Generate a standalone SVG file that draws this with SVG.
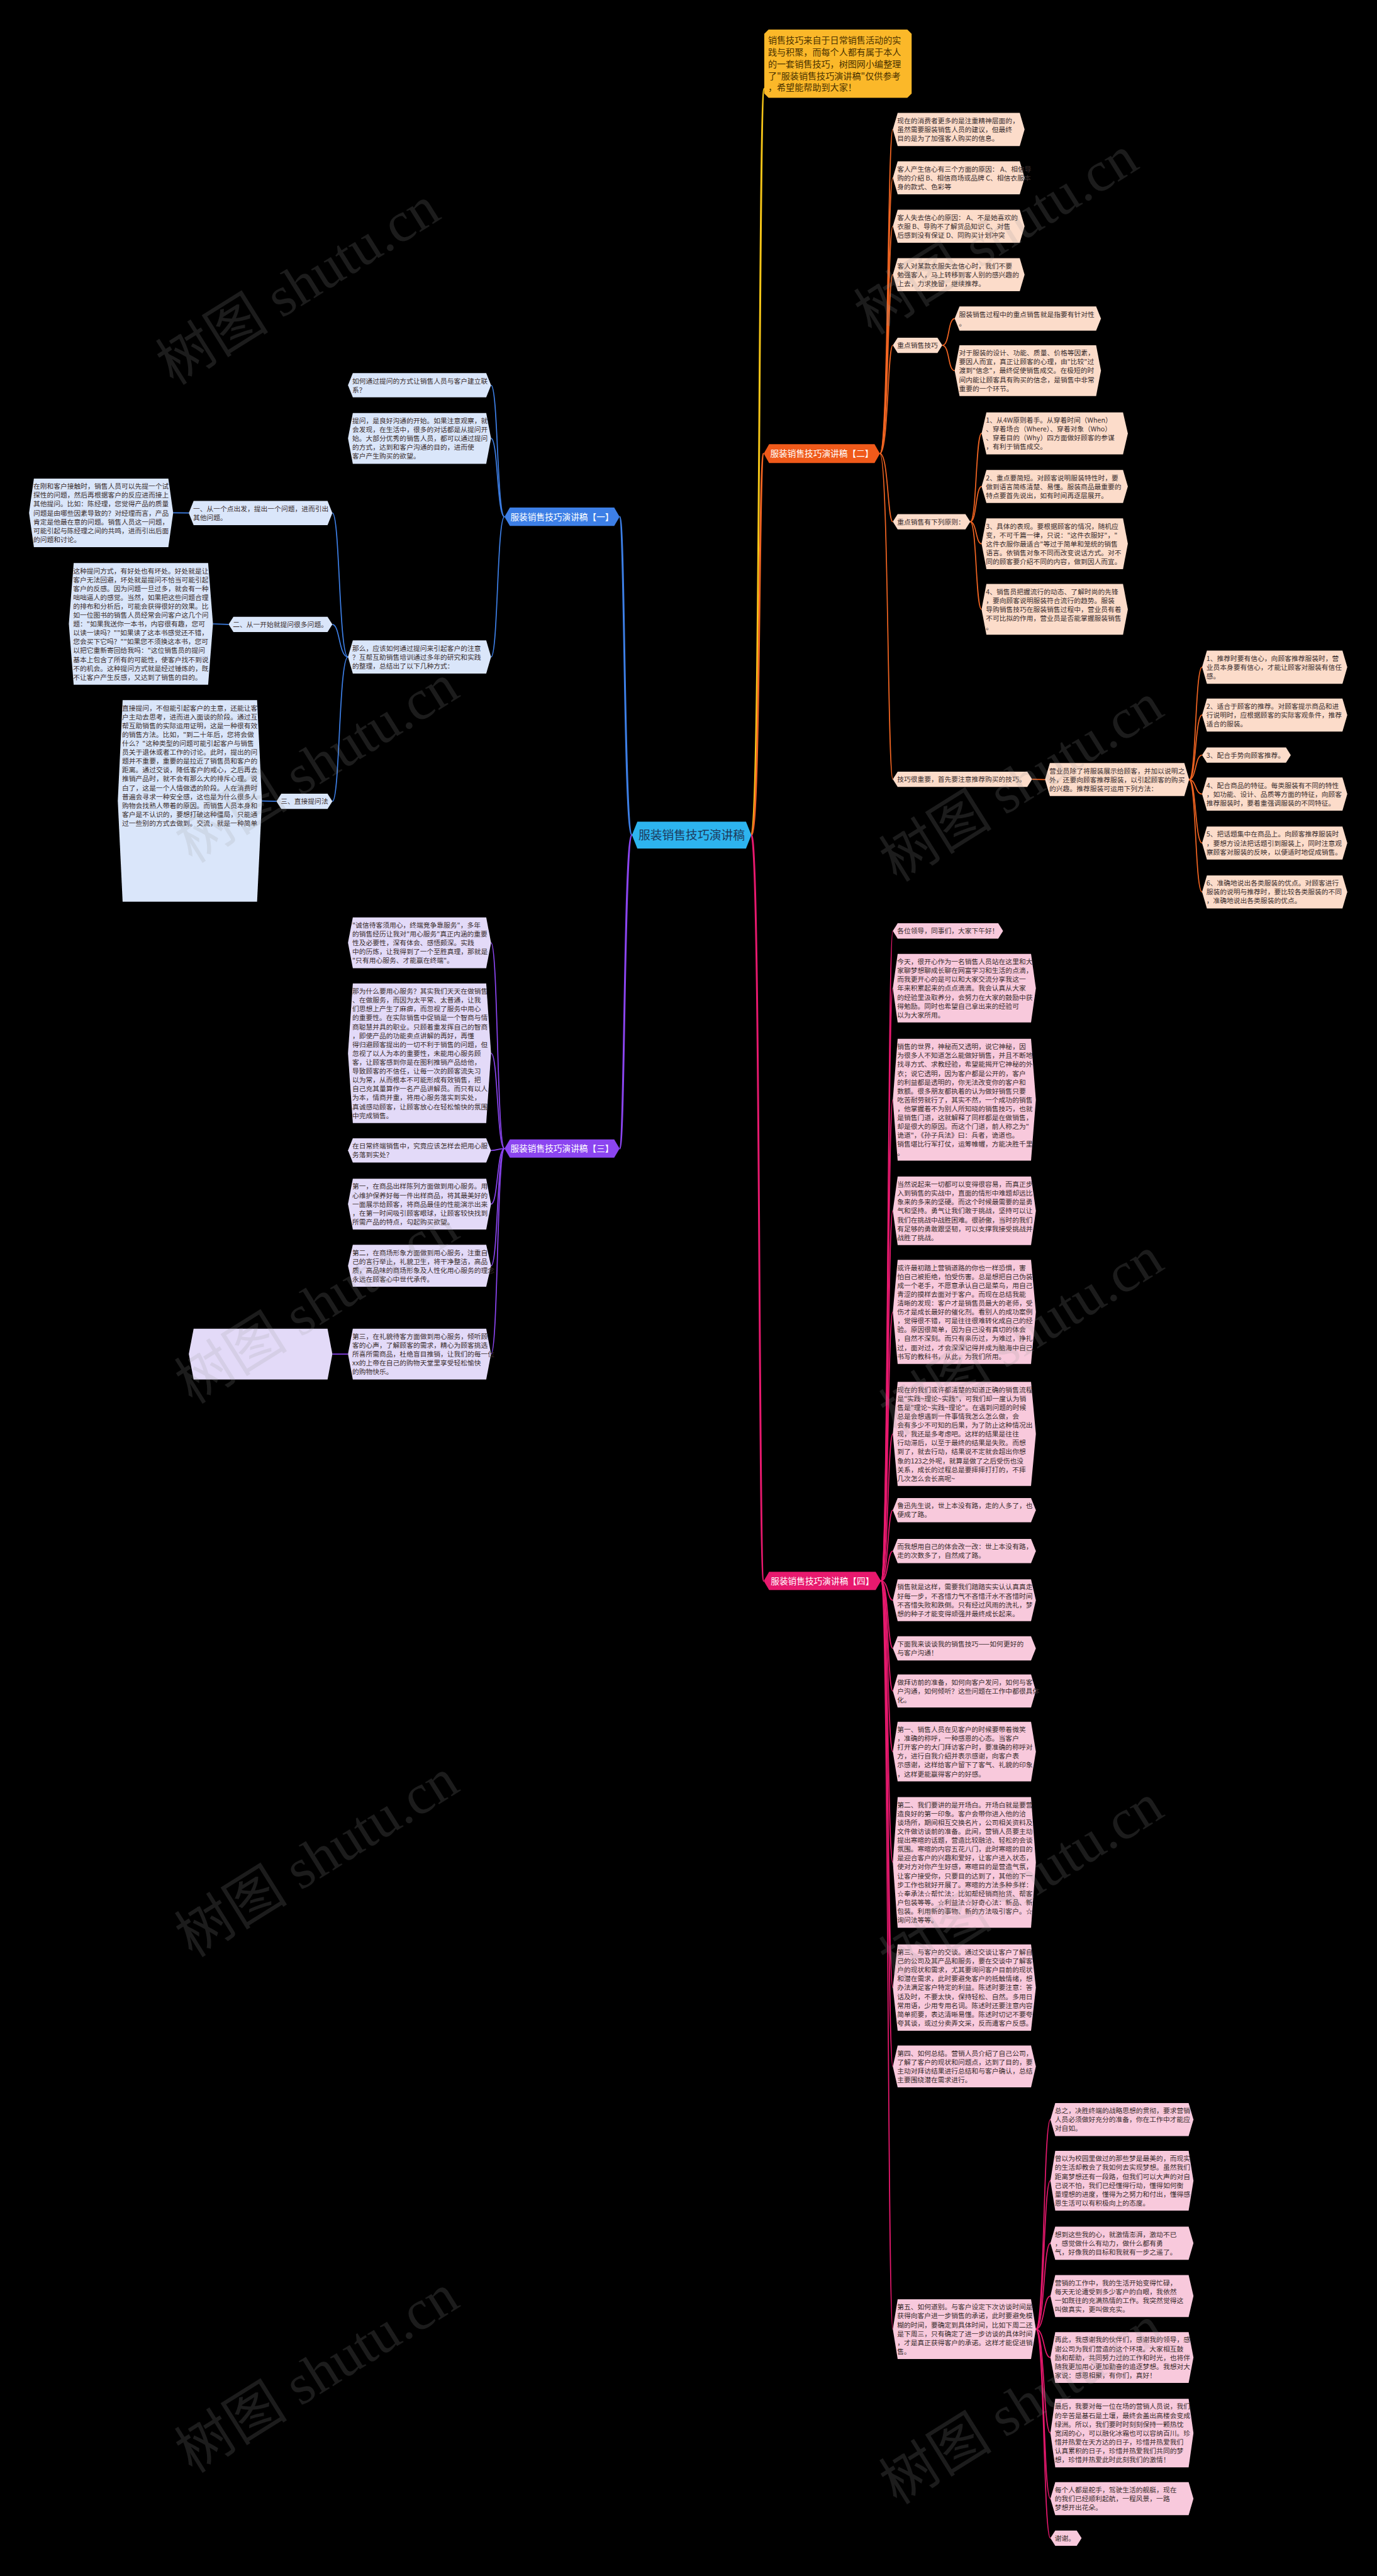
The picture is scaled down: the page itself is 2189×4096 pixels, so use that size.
<svg xmlns="http://www.w3.org/2000/svg" width="2189" height="4096" viewBox="0 0 2189 4096">
<defs>
<style>
.t{font-family:"Noto Sans CJK SC","Noto Sans",sans-serif;font-size:12.6px;fill:#3a2e2e;}
.ti{font-family:"Noto Sans CJK SC",sans-serif;font-size:16.5px;fill:#4a3200;}
.tb{font-family:"Noto Sans CJK SC",sans-serif;font-size:16px;fill:#ffffff;text-anchor:middle;}
.tc{font-family:"Noto Sans CJK SC",sans-serif;font-size:22px;fill:#1d3a5c;text-anchor:middle;}
.o{fill:#fcdcca;}
.p{fill:#f8c9dc;}
.b{fill:#dae6fa;}
.v{fill:#e3daf8;}
.lo{fill:none;stroke:#f26522;stroke-width:2;}
.lp{fill:none;stroke:#e8196e;stroke-width:2;}
.lb{fill:none;stroke:#3d7fe6;stroke-width:2;}
.lv{fill:none;stroke:#8b45f0;stroke-width:2;}
.wm{font-family:"Liberation Serif","Noto Sans CJK SC",serif;font-size:90px;fill:#9a9a9a;opacity:0.18;text-anchor:middle;}
</style>
</defs>
<rect width="2189" height="4096" fill="#000000"/>
<g transform="scale(0.855)">

<g id="connectors">
<path d="M1397,1553 C1414,1553 1410,165 1421,165" fill="none" stroke="#f5c518" stroke-width="3.5"/>
<path d="M1397,1553 C1414,1553 1410,843.5 1420,843.5" fill="none" stroke="#f26522" stroke-width="3.5"/>
<path d="M1397,1553 C1414,1553 1410,2940 1420,2940" fill="none" stroke="#e8196e" stroke-width="3.5"/>
<path d="M1175,1553 C1160,1553 1162,961 1152,961" fill="none" stroke="#3d7fe6" stroke-width="3.5"/>
<path d="M1175,1553 C1160,1553 1162,2136 1152,2136" fill="none" stroke="#8b45f0" stroke-width="3.5"/>

<path class="lo" d="M1636,843.5 C1652,843.5 1650,240.75 1660,240.75"/>
<path class="lo" d="M1636,843.5 C1652,843.5 1650,330.75 1660,330.75"/>
<path class="lo" d="M1636,843.5 C1652,843.5 1650,420.75 1660,420.75"/>
<path class="lo" d="M1636,843.5 C1652,843.5 1650,510.75 1660,510.75"/>
<path class="lo" d="M1636,843.5 C1652,843.5 1650,642.25 1660,642.25"/>
<path class="lo" d="M1636,843.5 C1652,843.5 1650,970.25 1660,970.25"/>
<path class="lo" d="M1636,843.5 C1652,843.5 1650,1449.25 1660,1449.25"/>
<path class="lo" d="M1752,642.25 C1766,642.25 1762,592.5 1775,592.5"/>
<path class="lo" d="M1752,642.25 C1766,642.25 1762,689.25 1775,689.25"/>
<path class="lo" d="M1804,970.25 C1816,970.25 1814,806 1825,806"/>
<path class="lo" d="M1804,970.25 C1816,970.25 1814,904.75 1825,904.75"/>
<path class="lo" d="M1804,970.25 C1816,970.25 1814,1011.25 1825,1011.25"/>
<path class="lo" d="M1804,970.25 C1816,970.25 1814,1133.25 1825,1133.25"/>
<path class="lo" d="M1919,1449.25 L1943,1449.75"/>
<path class="lo" d="M2211,1449.75 C2224,1449.75 2222,1240.75 2235,1240.75"/>
<path class="lo" d="M2211,1449.75 C2224,1449.75 2222,1329.75 2235,1329.75"/>
<path class="lo" d="M2211,1449.75 C2224,1449.75 2222,1404.25 2235,1404.25"/>
<path class="lo" d="M2211,1449.75 C2224,1449.75 2222,1476.75 2235,1476.75"/>
<path class="lo" d="M2211,1449.75 C2224,1449.75 2222,1567.75 2235,1567.75"/>
<path class="lo" d="M2211,1449.75 C2224,1449.75 2222,1658.75 2235,1658.75"/>

<path class="lp" d="M1638,2940 C1652,2940 1650,1731.25 1660,1731.25"/>
<path class="lp" d="M1638,2940 C1652,2940 1650,1837.75 1660,1837.75"/>
<path class="lp" d="M1638,2940 C1652,2940 1650,2045.25 1660,2045.25"/>
<path class="lp" d="M1638,2940 C1652,2940 1650,2251.75 1660,2251.75"/>
<path class="lp" d="M1638,2940 C1652,2940 1650,2439.75 1660,2439.75"/>
<path class="lp" d="M1638,2940 C1652,2940 1650,2666.75 1660,2666.75"/>
<path class="lp" d="M1638,2940 C1652,2940 1650,2808.5 1660,2808.5"/>
<path class="lp" d="M1638,2940 C1652,2940 1650,2884.5 1660,2884.5"/>
<path class="lp" d="M1638,2940 C1652,2940 1650,2976 1660,2976"/>
<path class="lp" d="M1638,2940 C1652,2940 1650,3065.5 1660,3065.5"/>
<path class="lp" d="M1638,2940 C1652,2940 1650,3144.75 1660,3144.75"/>
<path class="lp" d="M1638,2940 C1652,2940 1650,3257.5 1660,3257.5"/>
<path class="lp" d="M1638,2940 C1652,2940 1650,3463.5 1660,3463.5"/>
<path class="lp" d="M1638,2940 C1652,2940 1650,3696.25 1660,3696.25"/>
<path class="lp" d="M1638,2940 C1652,2940 1650,3843 1660,3843"/>
<path class="lp" d="M1638,2940 C1652,2940 1650,4331.5 1660,4331.5"/>
<path class="lp" d="M1926,4331.5 C1942,4331.5 1940,3941.75 1953,3941.75"/>
<path class="lp" d="M1926,4331.5 C1942,4331.5 1940,4055.5 1953,4055.5"/>
<path class="lp" d="M1926,4331.5 C1942,4331.5 1940,4171.75 1953,4171.75"/>
<path class="lp" d="M1926,4331.5 C1942,4331.5 1940,4270 1953,4270"/>
<path class="lp" d="M1926,4331.5 C1942,4331.5 1940,4384.25 1953,4384.25"/>
<path class="lp" d="M1926,4331.5 C1942,4331.5 1940,4524.75 1953,4524.75"/>
<path class="lp" d="M1926,4331.5 C1942,4331.5 1940,4646.75 1953,4646.75"/>
<path class="lp" d="M1926,4331.5 C1942,4331.5 1940,4720.25 1953,4720.25"/>

<path class="lb" d="M938,961 C924,961 926,716.5 913,716.5"/>
<path class="lb" d="M938,961 C924,961 926,815.25 913,815.25"/>
<path class="lb" d="M938,961 C924,961 926,1221.75 913,1221.75"/>
<path class="lb" d="M647,1221.75 C630,1221.75 632,954 618,954"/>
<path class="lb" d="M647,1221.75 C630,1221.75 632,1161.25 618,1161.25"/>
<path class="lb" d="M647,1221.75 C630,1221.75 632,1490.25 618,1490.25"/>
<path class="lb" d="M351,954 L322,953.75"/>
<path class="lb" d="M425,1161.25 L396,1160.25"/>
<path class="lb" d="M514,1490.25 L487,1489.5"/>

<path class="lv" d="M938,2136 C924,2136 926,1753.25 913,1753.25"/>
<path class="lv" d="M938,2136 C924,2136 926,1958.75 913,1958.75"/>
<path class="lv" d="M938,2136 C924,2136 926,2139.5 913,2139.5"/>
<path class="lv" d="M938,2136 C924,2136 926,2239.25 913,2239.25"/>
<path class="lv" d="M938,2136 C924,2136 926,2354 913,2354"/>
<path class="lv" d="M938,2136 C924,2136 926,2518.25 913,2518.25"/>
<path class="lv" d="M647,2518.25 L618,2518.25"/>
</g>

<g id="n-center"><path d="M1185,1528H1387L1397,1553L1387,1578H1185L1175,1553Z" fill="#2db4ef"/><text class="tc" x="1286" y="1561">服装销售技巧演讲稿</text></g>

<g id="n-intro"><path d="M1429,55H1687L1695,63V174L1687,182H1429L1421,174V63Z" fill="#fbb829"/>
<text class="ti" x="1428" y="80.8"><tspan x="1428" dy="0">销售技巧来自于日常销售活动的实</tspan><tspan x="1428" dy="22">践与积聚，而每个人都有属于本人</tspan><tspan x="1428" dy="22">的一套销售技巧，树图网小编整理</tspan><tspan x="1428" dy="22">了"服装销售技巧演讲稿"仅供参考</tspan><tspan x="1428" dy="22">，希望能帮助到大家！</tspan></text></g>

<g id="n-b2"><path d="M1430,826H1626L1636,843.5L1626,861H1430L1420,843.5Z" fill="#f05a1a"/><text class="tb" x="1528" y="849.5">服装销售技巧演讲稿【二】</text></g>
<g id="n-b4"><path d="M1430,2923H1628L1638,2940L1628,2957H1430L1420,2940Z" fill="#e8196e"/><text class="tb" x="1529" y="2946">服装销售技巧演讲稿【四】</text></g>
<g id="n-b1"><path d="M948,944H1142L1152,961L1142,978H948L938,961Z" fill="#3d7fe6"/><text class="tb" x="1045" y="967">服装销售技巧演讲稿【一】</text></g>
<g id="n-b3"><path d="M948,2119H1142L1152,2136L1142,2153H948L938,2136Z" fill="#8b45f0"/><text class="tb" x="1045" y="2142">服装销售技巧演讲稿【三】</text></g>

<!-- branch 2 -->
<g id="n2-1"><path class="o" d="M1669,210H1896L1905,240.75L1896,271.5H1669L1660,240.75Z"/><text class="t" x="1668" y="229.1"><tspan x="1668" dy="0">现在的消费者更多的是注重精神层面的，</tspan><tspan x="1668" dy="16.5">虽然需要服装销售人员的建议，但最终</tspan><tspan x="1668" dy="16.5">目的是为了加强客人购买的信息。</tspan></text></g>
<g id="n2-2"><path class="o" d="M1669,300H1896L1905,330.75L1896,361.5H1669L1660,330.75Z"/><text class="t" x="1668" y="319.1"><tspan x="1668" dy="0">客人产生信心有三个方面的原因： A、相信导</tspan><tspan x="1668" dy="16.5">购的介绍 B、相信商场或品牌 C、相信衣服本</tspan><tspan x="1668" dy="16.5">身的款式、色彩等</tspan></text></g>
<g id="n2-3"><path class="o" d="M1669,390H1896L1905,420.75L1896,451.5H1669L1660,420.75Z"/><text class="t" x="1668" y="409.1"><tspan x="1668" dy="0">客人失去信心的原因： A、不是她喜欢的</tspan><tspan x="1668" dy="16.5">衣服 B、导购不了解货品知识 C、对售</tspan><tspan x="1668" dy="16.5">后感到没有保证 D、同购买计划冲突</tspan></text></g>
<g id="n2-4"><path class="o" d="M1669,480H1896L1905,510.75L1896,541.5H1669L1660,510.75Z"/><text class="t" x="1668" y="499.1"><tspan x="1668" dy="0">客人对某款衣服失去信心时，我们不要</tspan><tspan x="1668" dy="16.5">勉强客人，马上转移到客人别的感兴趣的</tspan><tspan x="1668" dy="16.5">上去，力求挽留，继续推荐。</tspan></text></g>
<g id="n2-5"><path class="o" d="M1669,628H1743L1752,642.25L1743,656.5H1669L1660,642.25Z"/><text class="t" x="1668" y="647.1">重点销售技巧</text></g>
<g id="n2-5a"><path class="o" d="M1784,570H2038L2047,592.5L2038,615H1784L1775,592.5Z"/><text class="t" x="1783" y="589.1"><tspan x="1783" dy="0">服装销售过程中的重点销售就是指要有针对性</tspan><tspan x="1783" dy="16.5">。</tspan></text></g>
<g id="n2-5b"><path class="o" d="M1784,642H2038L2047,689.25L2038,736.5H1784L1775,689.25Z"/><text class="t" x="1783" y="661.1"><tspan x="1783" dy="0">对于服装的设计、功能、质量、价格等因素，</tspan><tspan x="1783" dy="16.5">要因人而宜，真正让顾客的心理，由"比较"过</tspan><tspan x="1783" dy="16.5">渡到"信念"，最终促使销售成交。在极短的时</tspan><tspan x="1783" dy="16.5">间内能让顾客具有购买的信念，是销售中非常</tspan><tspan x="1783" dy="16.5">重要的一个环节。</tspan></text></g>
<g id="n2-6"><path class="o" d="M1669,956H1795L1804,970.25L1795,984.5H1669L1660,970.25Z"/><text class="t" x="1668" y="975.1">重点销售有下列原则：</text></g>
<g id="n2-6a"><path class="o" d="M1834,767H2088L2097,806L2088,845H1834L1825,806Z"/><text class="t" x="1833" y="786.1"><tspan x="1833" dy="0">1、从4W原则着手。从穿着时间（When）</tspan><tspan x="1833" dy="16.5">、穿着场合（Where）、穿着对象（Who）</tspan><tspan x="1833" dy="16.5">、穿着目的（Why）四方面做好顾客的参谋</tspan><tspan x="1833" dy="16.5">，有利于销售成交。</tspan></text></g>
<g id="n2-6b"><path class="o" d="M1834,874H2088L2097,904.75L2088,935.5H1834L1825,904.75Z"/><text class="t" x="1833" y="893.1"><tspan x="1833" dy="0">2、重点要简短。对顾客说明服装特性时，要</tspan><tspan x="1833" dy="16.5">做到语言简练清楚、易懂。服装商品最重要的</tspan><tspan x="1833" dy="16.5">特点要首先说出，如有时间再逐层展开。</tspan></text></g>
<g id="n2-6c"><path class="o" d="M1834,964H2088L2097,1011.25L2088,1058.5H1834L1825,1011.25Z"/><text class="t" x="1833" y="983.1"><tspan x="1833" dy="0">3、具体的表现。要根据顾客的情况，随机应</tspan><tspan x="1833" dy="16.5">变，不可千篇一律，只说："这件衣服好"，"</tspan><tspan x="1833" dy="16.5">这件衣服你最适合"等过于简单和笼统的销售</tspan><tspan x="1833" dy="16.5">语言。依销售对象不同而改变说话方式。对不</tspan><tspan x="1833" dy="16.5">同的顾客要介绍不同的内容，做到因人而宜。</tspan></text></g>
<g id="n2-6d"><path class="o" d="M1834,1086H2088L2097,1133.25L2088,1180.5H1834L1825,1133.25Z"/><text class="t" x="1833" y="1105.1"><tspan x="1833" dy="0">4、销售员把握流行的动态、了解时尚的先锋</tspan><tspan x="1833" dy="16.5">，要向顾客说明服装符合流行的趋势。服装</tspan><tspan x="1833" dy="16.5">导购销售技巧在服装销售过程中，营业员有着</tspan><tspan x="1833" dy="16.5">不可比拟的作用，营业员是否能掌握服装销售</tspan><tspan x="1833" dy="16.5">。</tspan></text></g>
<g id="n2-7"><path class="o" d="M1669,1435H1910L1919,1449.25L1910,1463.5H1669L1660,1449.25Z"/><text class="t" x="1668" y="1454.1">技巧很重要，首先要注意推荐购买的技巧。</text></g>
<g id="n2-7a"><path class="o" d="M1952,1419H2202L2211,1449.75L2202,1480.5H1952L1943,1449.75Z"/><text class="t" x="1951" y="1438.1"><tspan x="1951" dy="0">营业员除了将服装展示给顾客，并加以说明之</tspan><tspan x="1951" dy="16.5">外，还要向顾客推荐服装，以引起顾客的购买</tspan><tspan x="1951" dy="16.5">的兴趣。推荐服装可运用下列方法：</tspan></text></g>
<g id="n2-7a1"><path class="o" d="M2244,1210H2496L2505,1240.75L2496,1271.5H2244L2235,1240.75Z"/><text class="t" x="2243" y="1229.1"><tspan x="2243" dy="0">1、推荐时要有信心，向顾客推荐服装时，营</tspan><tspan x="2243" dy="16.5">业员本身要有信心，才能让顾客对服装有信任</tspan><tspan x="2243" dy="16.5">感。</tspan></text></g>
<g id="n2-7a2"><path class="o" d="M2244,1299H2496L2505,1329.75L2496,1360.5H2244L2235,1329.75Z"/><text class="t" x="2243" y="1318.1"><tspan x="2243" dy="0">2、适合于顾客的推荐。对顾客提示商品和进</tspan><tspan x="2243" dy="16.5">行说明时，应根据顾客的实际客观条件，推荐</tspan><tspan x="2243" dy="16.5">适合的服装。</tspan></text></g>
<g id="n2-7a3"><path class="o" d="M2244,1390H2391L2400,1404.25L2391,1418.5H2244L2235,1404.25Z"/><text class="t" x="2243" y="1409.1">3、配合手势向顾客推荐。</text></g>
<g id="n2-7a4"><path class="o" d="M2244,1446H2496L2505,1476.75L2496,1507.5H2244L2235,1476.75Z"/><text class="t" x="2243" y="1465.1"><tspan x="2243" dy="0">4、配合商品的特征。每类服装有不同的特性</tspan><tspan x="2243" dy="16.5">，如功能、设计、品质等方面的特征，向顾客</tspan><tspan x="2243" dy="16.5">推荐服装时，要着重强调服装的不同特征。</tspan></text></g>
<g id="n2-7a5"><path class="o" d="M2244,1537H2496L2505,1567.75L2496,1598.5H2244L2235,1567.75Z"/><text class="t" x="2243" y="1556.1"><tspan x="2243" dy="0">5、把话题集中在商品上。向顾客推荐服装时</tspan><tspan x="2243" dy="16.5">，要想方设法把话题引到服装上，同时注意观</tspan><tspan x="2243" dy="16.5">察顾客对服装的反映，以便适时地促成销售。</tspan></text></g>
<g id="n2-7a6"><path class="o" d="M2244,1628H2496L2505,1658.75L2496,1689.5H2244L2235,1658.75Z"/><text class="t" x="2243" y="1647.1"><tspan x="2243" dy="0">6、准确地说出各类服装的优点。对顾客进行</tspan><tspan x="2243" dy="16.5">服装的说明与推荐时，要比较各类服装的不同</tspan><tspan x="2243" dy="16.5">，准确地说出各类服装的优点。</tspan></text></g>

<!-- branch 4 -->
<g id="n4-1"><path class="p" d="M1669,1717H1856L1865,1731.25L1856,1745.5H1669L1660,1731.25Z"/><text class="t" x="1668" y="1736.1">各位领导，同事们，大家下午好！</text></g>
<g id="n4-2"><path class="p" d="M1669,1774H1917L1926,1837.75L1917,1901.5H1669L1660,1837.75Z"/><text class="t" x="1668" y="1793.1"><tspan x="1668" dy="0">今天，很开心作为一名销售人员站在这里和大</tspan><tspan x="1668" dy="16.5">家聊梦想聊成长聊在网富学习和生活的点滴，</tspan><tspan x="1668" dy="16.5">而我更开心的是可以和大家交流分享我这一</tspan><tspan x="1668" dy="16.5">年来积累起来的点点滴滴。我会认真从大家</tspan><tspan x="1668" dy="16.5">的经验里汲取养分，会努力在大家的鼓励中获</tspan><tspan x="1668" dy="16.5">得勉励。同时也希望自己拿出来的经验可</tspan><tspan x="1668" dy="16.5">以为大家所用。</tspan></text></g>
<g id="n4-3"><path class="p" d="M1669,1932H1917L1926,2045.25L1917,2158.5H1669L1660,2045.25Z"/><text class="t" x="1668" y="1951.1"><tspan x="1668" dy="0">销售的世界，神秘而又透明，说它神秘，因</tspan><tspan x="1668" dy="16.5">为很多人不知道怎么能做好销售，并且不断地</tspan><tspan x="1668" dy="16.5">找寻方式、求教经验，希望能揭开它神秘的外</tspan><tspan x="1668" dy="16.5">衣；说它透明，因为客户都是公开的，客户</tspan><tspan x="1668" dy="16.5">的利益都是透明的，你无法改变你的客户和</tspan><tspan x="1668" dy="16.5">数额。很多朋友都执着的认为做好销售只要</tspan><tspan x="1668" dy="16.5">吃苦耐劳就行了，其实不然，一个成功的销售</tspan><tspan x="1668" dy="16.5">，他掌握着不为别人所知晓的销售技巧，也就</tspan><tspan x="1668" dy="16.5">是销售门道，这就解释了同样都是在做销售，</tspan><tspan x="1668" dy="16.5">却是很大的原因。而这个门道，前人称之为"</tspan><tspan x="1668" dy="16.5">诡道"，《孙子兵法》曰：兵者，诡道也。</tspan><tspan x="1668" dy="16.5">销售堪比行军打仗，运筹帷幄，方能决胜千里</tspan><tspan x="1668" dy="16.5">。</tspan></text></g>
<g id="n4-4"><path class="p" d="M1669,2188H1917L1926,2251.75L1917,2315.5H1669L1660,2251.75Z"/><text class="t" x="1668" y="2207.1"><tspan x="1668" dy="0">当然说起来一切都可以变得很容易，而真正步</tspan><tspan x="1668" dy="16.5">入到销售的实战中，直面的情形中难题却远比</tspan><tspan x="1668" dy="16.5">象来的多来的坚硬。而这个时候最需要的是勇</tspan><tspan x="1668" dy="16.5">气和坚持。勇气让我们敢于挑战，坚持可以让</tspan><tspan x="1668" dy="16.5">我们在挑战中战胜困难。很骄傲，当时的我们</tspan><tspan x="1668" dy="16.5">有足够的勇敢跟坚韧，可以支撑我接受挑战并</tspan><tspan x="1668" dy="16.5">战胜了挑战。</tspan></text></g>
<g id="n4-5"><path class="p" d="M1669,2343H1917L1926,2439.75L1917,2536.5H1669L1660,2439.75Z"/><text class="t" x="1668" y="2362.1"><tspan x="1668" dy="0">或许最初踏上营销道路的你也一样恐惧，害</tspan><tspan x="1668" dy="16.5">怕自己被拒绝，怕受伤害。总是想把自己伪装</tspan><tspan x="1668" dy="16.5">成一个老手，不愿意承认自己是菜鸟，用自己</tspan><tspan x="1668" dy="16.5">青涩的摸样去面对于客户。而现在总结我能</tspan><tspan x="1668" dy="16.5">清晰的发现：客户才是销售员最大的老师，受</tspan><tspan x="1668" dy="16.5">伤才是成长最好的催化剂。看别人的成功案例</tspan><tspan x="1668" dy="16.5">，觉得很不错，可是往往很难转化成自己的经</tspan><tspan x="1668" dy="16.5">验。原因很简单，因为自己没有真切的体会</tspan><tspan x="1668" dy="16.5">，自然不深刻。而只有亲历过，为难过，挣扎</tspan><tspan x="1668" dy="16.5">过，面对过，才会深深记得并成为脑海中自己</tspan><tspan x="1668" dy="16.5">书写的教科书，从此，为我们所用。</tspan></text></g>
<g id="n4-6"><path class="p" d="M1669,2570H1917L1926,2666.75L1917,2763.5H1669L1660,2666.75Z"/><text class="t" x="1668" y="2589.1"><tspan x="1668" dy="0">现在的我们或许都清楚的知道正确的销售流程</tspan><tspan x="1668" dy="16.5">是"实践~理论~实践"，可我们却一度认为销</tspan><tspan x="1668" dy="16.5">售是"理论~实践~理论"。在遇到问题的时候</tspan><tspan x="1668" dy="16.5">总是会想遇到一件事情我怎么怎么做，会</tspan><tspan x="1668" dy="16.5">会有多少不可知的后果，为了防止这种情况出</tspan><tspan x="1668" dy="16.5">现，我还是多考虑吧。这样的结果是往往</tspan><tspan x="1668" dy="16.5">行动滞后，以至于最终的结果是失败。而想</tspan><tspan x="1668" dy="16.5">到了，就去行动，结果说不定就会超出你想</tspan><tspan x="1668" dy="16.5">象的123之外呢，就算是做了之后受伤也没</tspan><tspan x="1668" dy="16.5">关系，成长的过程总是要摔摔打打的，不摔</tspan><tspan x="1668" dy="16.5">几次怎么会长高呢~</tspan></text></g>
<g id="n4-7"><path class="p" d="M1669,2786H1917L1926,2808.5L1917,2831H1669L1660,2808.5Z"/><text class="t" x="1668" y="2805.1"><tspan x="1668" dy="0">鲁迅先生说，世上本没有路，走的人多了，也</tspan><tspan x="1668" dy="16.5">便成了路。</tspan></text></g>
<g id="n4-8"><path class="p" d="M1669,2862H1917L1926,2884.5L1917,2907H1669L1660,2884.5Z"/><text class="t" x="1668" y="2881.1"><tspan x="1668" dy="0">而我想用自己的体会改一改：世上本没有路，</tspan><tspan x="1668" dy="16.5">走的次数多了，自然成了路。</tspan></text></g>
<g id="n4-9"><path class="p" d="M1669,2937H1917L1926,2976L1917,3015H1669L1660,2976Z"/><text class="t" x="1668" y="2956.1"><tspan x="1668" dy="0">销售就是这样，需要我们踏踏实实认认真真走</tspan><tspan x="1668" dy="16.5">好每一步，不吝惜力气不吝惜汗水不吝惜时间</tspan><tspan x="1668" dy="16.5">不吝惜失败和跌倒。只有经过风雨的洗礼，梦</tspan><tspan x="1668" dy="16.5">想的种子才能变得顽强并最终成长起来。</tspan></text></g>
<g id="n4-10"><path class="p" d="M1669,3043H1917L1926,3065.5L1917,3088H1669L1660,3065.5Z"/><text class="t" x="1668" y="3062.1"><tspan x="1668" dy="0">下面我来谈谈我的销售技巧——如何更好的</tspan><tspan x="1668" dy="16.5">与客户沟通！</tspan></text></g>
<g id="n4-11"><path class="p" d="M1669,3114H1917L1926,3144.75L1917,3175.5H1669L1660,3144.75Z"/><text class="t" x="1668" y="3133.1"><tspan x="1668" dy="0">做拜访前的准备，如何向客户发问，如何与客</tspan><tspan x="1668" dy="16.5">户沟通，如何倾听？这些问题在工作中都很具体</tspan><tspan x="1668" dy="16.5">化。</tspan></text></g>
<g id="n4-12"><path class="p" d="M1669,3202H1917L1926,3257.5L1917,3313H1669L1660,3257.5Z"/><text class="t" x="1668" y="3221.1"><tspan x="1668" dy="0">第一、销售人员在见客户的时候要带着微笑</tspan><tspan x="1668" dy="16.5">，准确的称呼，一种感恩的心态。当客户</tspan><tspan x="1668" dy="16.5">打开客户的大门拜访客户时，要准确的称呼对</tspan><tspan x="1668" dy="16.5">方，进行自我介绍并表示感谢，向客户表</tspan><tspan x="1668" dy="16.5">示感谢，这样给客户留下了客气、礼貌的印象</tspan><tspan x="1668" dy="16.5">，这样更能赢得客户的好感。</tspan></text></g>
<g id="n4-13"><path class="p" d="M1669,3342H1917L1926,3463.5L1917,3585H1669L1660,3463.5Z"/><text class="t" x="1668" y="3361.1"><tspan x="1668" dy="0">第二、我们要讲的是开场白。开场白就是要营</tspan><tspan x="1668" dy="16.5">造良好的第一印象。客户会带你进入他的洽</tspan><tspan x="1668" dy="16.5">谈场所，期间相互交换名片，公司相关资料及</tspan><tspan x="1668" dy="16.5">文件做访谈前的准备。此间，营销人员要主动</tspan><tspan x="1668" dy="16.5">提出寒暄的话题，营造比较融洽、轻松的会谈</tspan><tspan x="1668" dy="16.5">氛围。寒暄的内容五花八门，此时寒暄的目的</tspan><tspan x="1668" dy="16.5">是迎合客户的兴趣和爱好，让客户进入状态，</tspan><tspan x="1668" dy="16.5">使对方对你产生好感，寒暄目的是营造气氛，</tspan><tspan x="1668" dy="16.5">让客户接受你，只要目的达到了，其他的下一</tspan><tspan x="1668" dy="16.5">步工作也就好开展了。寒暄的方法多种多样：</tspan><tspan x="1668" dy="16.5">☆奉承法☆帮忙法：比如帮经销商抬货、帮客</tspan><tspan x="1668" dy="16.5">户包装等等。☆利益法☆好奇心法：新品、新</tspan><tspan x="1668" dy="16.5">包装。利用新的事物、新的方法吸引客户。☆</tspan><tspan x="1668" dy="16.5">询问法等等。</tspan></text></g>
<g id="n4-14"><path class="p" d="M1669,3616H1917L1926,3696.25L1917,3776.5H1669L1660,3696.25Z"/><text class="t" x="1668" y="3635.1"><tspan x="1668" dy="0">第三、与客户的交谈。通过交谈让客户了解自</tspan><tspan x="1668" dy="16.5">己的公司及其产品和服务，要在交谈中了解客</tspan><tspan x="1668" dy="16.5">户的现状和需求，尤其要询问客户目前的现状</tspan><tspan x="1668" dy="16.5">和潜在需求，此时要避免客户的抵触情绪，想</tspan><tspan x="1668" dy="16.5">办法满足客户特定的利益。陈述时要注意：答</tspan><tspan x="1668" dy="16.5">话及时，不要太快，保持轻松、自然。多用日</tspan><tspan x="1668" dy="16.5">常用语，少用专用名词。陈述时还要注意内容</tspan><tspan x="1668" dy="16.5">简单扼要，表达清晰易懂。陈述时切记不要夸</tspan><tspan x="1668" dy="16.5">夸其谈，或过分卖弄文采，反而遭客户反感。</tspan></text></g>
<g id="n4-15"><path class="p" d="M1669,3804H1917L1926,3843L1917,3882H1669L1660,3843Z"/><text class="t" x="1668" y="3823.1"><tspan x="1668" dy="0">第四、如何总结。营销人员介绍了自己公司，</tspan><tspan x="1668" dy="16.5">了解了客户的现状和问题点，达到了目的，要</tspan><tspan x="1668" dy="16.5">主动对拜访结果进行总结和与客户确认，总结</tspan><tspan x="1668" dy="16.5">主要围绕潜在需求进行。</tspan></text></g>
<g id="n4-16"><path class="p" d="M1669,4276H1917L1926,4331.5L1917,4387H1669L1660,4331.5Z"/><text class="t" x="1668" y="4295.1"><tspan x="1668" dy="0">第五、如何道别。与客户设定下次访谈时间是</tspan><tspan x="1668" dy="16.5">获得向客户进一步销售的承诺，此时要避免模</tspan><tspan x="1668" dy="16.5">糊的时间，要确定到具体时间，比如下周二还</tspan><tspan x="1668" dy="16.5">是下周三，只有确定了进一步访谈的具体时间</tspan><tspan x="1668" dy="16.5">，才是真正获得客户的承诺。这样才能促进销</tspan><tspan x="1668" dy="16.5">售。</tspan></text></g>
<g id="n4-16a"><path class="p" d="M1962,3911H2210L2219,3941.75L2210,3972.5H1962L1953,3941.75Z"/><text class="t" x="1961" y="3930.1"><tspan x="1961" dy="0">总之，决胜终端的战略思想的贯彻，要求营销</tspan><tspan x="1961" dy="16.5">人员必须做好充分的准备，你在工作中才能应</tspan><tspan x="1961" dy="16.5">对自如。</tspan></text></g>
<g id="n4-16b"><path class="p" d="M1962,4000H2210L2219,4055.5L2210,4111H1962L1953,4055.5Z"/><text class="t" x="1961" y="4019.1"><tspan x="1961" dy="0">曾以为校园里做过的那些梦是最美的，而现实</tspan><tspan x="1961" dy="16.5">的生活却教会了我如何去实现梦想。虽然我们</tspan><tspan x="1961" dy="16.5">距离梦想还有一段路，但我们可以大声的对自</tspan><tspan x="1961" dy="16.5">己说不怕，我们已经懂得行动，懂得如何衡</tspan><tspan x="1961" dy="16.5">量理想的进度，懂得为之努力和付出，懂得感</tspan><tspan x="1961" dy="16.5">恩生活可以有积极向上的态度。</tspan></text></g>
<g id="n4-16c"><path class="p" d="M1962,4141H2210L2219,4171.75L2210,4202.5H1962L1953,4171.75Z"/><text class="t" x="1961" y="4160.1"><tspan x="1961" dy="0">想到这些我的心，就激情澎湃，激动不已</tspan><tspan x="1961" dy="16.5">，感觉做什么有动力，做什么都有勇</tspan><tspan x="1961" dy="16.5">气，好像我的目标和我就有一步之遥了。</tspan></text></g>
<g id="n4-16d"><path class="p" d="M1962,4231H2210L2219,4270L2210,4309H1962L1953,4270Z"/><text class="t" x="1961" y="4250.1"><tspan x="1961" dy="0">营销的工作中，我的生活开始变得忙碌，</tspan><tspan x="1961" dy="16.5">每天无论遭受到多少客户的白眼，我依然</tspan><tspan x="1961" dy="16.5">一如既往的充满热情的工作。我突然觉得这</tspan><tspan x="1961" dy="16.5">叫做真实，更叫做充实。</tspan></text></g>
<g id="n4-16e"><path class="p" d="M1962,4337H2210L2219,4384.25L2210,4431.5H1962L1953,4384.25Z"/><text class="t" x="1961" y="4356.1"><tspan x="1961" dy="0">再此，我感谢我的伙伴们，感谢我的领导，感</tspan><tspan x="1961" dy="16.5">谢公司为我们营造的这个环境。大家相互鼓</tspan><tspan x="1961" dy="16.5">励和帮助，共同努力过的工作和时光，也将伴</tspan><tspan x="1961" dy="16.5">随我更加用心更加勤奋的追逐梦想。我想对大</tspan><tspan x="1961" dy="16.5">家说：感恩相聚，有你们，真好！</tspan></text></g>
<g id="n4-16f"><path class="p" d="M1962,4461H2210L2219,4524.75L2210,4588.5H1962L1953,4524.75Z"/><text class="t" x="1961" y="4480.1"><tspan x="1961" dy="0">最后，我要对每一位在场的营销人员说，我们</tspan><tspan x="1961" dy="16.5">的辛苦是基石是土壤，最终会盖出高楼会变成</tspan><tspan x="1961" dy="16.5">绿洲。所以，我们要时时刻刻保持一颗热忱</tspan><tspan x="1961" dy="16.5">宽阔的心，可以融化冰霜也可以容纳百川。珍</tspan><tspan x="1961" dy="16.5">惜并热爱在天方达的日子，珍惜并热爱我们</tspan><tspan x="1961" dy="16.5">认真累积的日子，珍惜并热爱我们共同的梦</tspan><tspan x="1961" dy="16.5">想，珍惜并热爱此时此刻我们的激情！</tspan></text></g>
<g id="n4-16g"><path class="p" d="M1962,4616H2210L2219,4646.75L2210,4677.5H1962L1953,4646.75Z"/><text class="t" x="1961" y="4635.1"><tspan x="1961" dy="0">每个人都是舵手，驾驶生活的舰艇，现在</tspan><tspan x="1961" dy="16.5">的我们已经顺利起航，一程风景，一路</tspan><tspan x="1961" dy="16.5">梦想开出花朵。</tspan></text></g>
<g id="n4-16h"><path class="p" d="M1962,4706H2002L2011,4720.25L2002,4734.5H1962L1953,4720.25Z"/><text class="t" x="1961" y="4725.1">谢谢。</text></g>

<!-- branch 1 -->
<g id="n1-1"><path class="b" d="M656,694H904L913,716.5L904,739H656L647,716.5Z"/><text class="t" x="655" y="713.1"><tspan x="655" dy="0">如何通过提问的方式让销售人员与客户建立联</tspan><tspan x="655" dy="16.5">系？</tspan></text></g>
<g id="n1-2"><path class="b" d="M656,768H904L913,815.25L904,862.5H656L647,815.25Z"/><text class="t" x="655" y="787.1"><tspan x="655" dy="0">提问，是良好沟通的开始。如果注意观察，就</tspan><tspan x="655" dy="16.5">会发现，在生活中，很多的对话都是从提问开</tspan><tspan x="655" dy="16.5">始。大部分优秀的销售人员，都可以通过提问</tspan><tspan x="655" dy="16.5">的方式，达到和客户沟通的目的，进而使</tspan><tspan x="655" dy="16.5">客户产生购买的欲望。</tspan></text></g>
<g id="n1-3"><path class="b" d="M656,1191H904L913,1221.75L904,1252.5H656L647,1221.75Z"/><text class="t" x="655" y="1210.1"><tspan x="655" dy="0">那么，应该如何通过提问来引起客户的注意</tspan><tspan x="655" dy="16.5">？互帮互助销售培训通过多年的研究和实践</tspan><tspan x="655" dy="16.5">的整理，总结出了以下几种方式：</tspan></text></g>
<g id="n1-3a"><path class="b" d="M360,931.5H609L618,954L609,976.5H360L351,954Z"/><text class="t" x="359" y="950.6"><tspan x="359" dy="0">一、从一个点出发，提出一个问题，进而引出</tspan><tspan x="359" dy="16.5">其他问题。</tspan></text></g>
<g id="n1-3a1"><path class="b" d="M63,890H313L322,953.75L313,1017.5H63L54,953.75Z"/><text class="t" x="62" y="909.1"><tspan x="62" dy="0">在刚和客户接触时，销售人员可以先提一个试</tspan><tspan x="62" dy="16.5">探性的问题，然后再根据客户的反应进而接上</tspan><tspan x="62" dy="16.5">其他提问。比如：陈经理，您觉得产品的质量</tspan><tspan x="62" dy="16.5">问题是由哪些因素导致的？对经理而言，产品</tspan><tspan x="62" dy="16.5">肯定是他最在意的问题。销售人员这一问题，</tspan><tspan x="62" dy="16.5">可能引起与陈经理之间的共鸣，进而引出后面</tspan><tspan x="62" dy="16.5">的问题和讨论。</tspan></text></g>
<g id="n1-3b"><path class="b" d="M434,1147H609L618,1161.25L609,1175.5H434L425,1161.25Z"/><text class="t" x="433" y="1166.1">二、从一开始就提问很多问题。</text></g>
<g id="n1-3b1"><path class="b" d="M137,1047H387L396,1160.25L387,1273.5H137L128,1160.25Z"/><text class="t" x="136" y="1066.1"><tspan x="136" dy="0">这种提问方式，有好处也有坏处。好处就是让</tspan><tspan x="136" dy="16.5">客户无法回避，坏处就是提问不恰当可能引起</tspan><tspan x="136" dy="16.5">客户的反感。因为问题一旦过多，就会有一种</tspan><tspan x="136" dy="16.5">咄咄逼人的感觉。当然，如果把这些问题合理</tspan><tspan x="136" dy="16.5">的排布和分析后，可能会获得很好的效果。比</tspan><tspan x="136" dy="16.5">如一位图书的销售人员经常会问客户这几个问</tspan><tspan x="136" dy="16.5">题："如果我送你一本书，内容很有趣，您可</tspan><tspan x="136" dy="16.5">以读一读吗？""如果读了这本书感觉还不错，</tspan><tspan x="136" dy="16.5">您会买下它吗？""如果您不须换这本书，您可</tspan><tspan x="136" dy="16.5">以把它重新寄回给我吗："这位销售员的提问</tspan><tspan x="136" dy="16.5">基本上包含了所有的可能性，使客户找不到说</tspan><tspan x="136" dy="16.5">不的机会。这种提问方式就是经过锤炼的，既</tspan><tspan x="136" dy="16.5">不让客户产生反感，又达到了销售的目的。</tspan></text></g>
<g id="n1-3c"><path class="b" d="M523,1476H609L618,1490.25L609,1504.5H523L514,1490.25Z"/><text class="t" x="522" y="1495.1">三、直接提问法</text></g>
<g id="n1-3c1"><path class="b" d="M228,1302H478L487,1489.5L478,1677H228L219,1489.5Z"/><text class="t" x="227" y="1321.1"><tspan x="227" dy="0">直接提问，不但能引起客户的主意，还能让客</tspan><tspan x="227" dy="16.5">户主动去思考，进而进入面谈的阶段。通过互</tspan><tspan x="227" dy="16.5">帮互助销售的实际运用证明，这是一种很有效</tspan><tspan x="227" dy="16.5">的销售方法。比如，"到二十年后，您将会做</tspan><tspan x="227" dy="16.5">什么？"这种类型的问题可能引起客户与销售</tspan><tspan x="227" dy="16.5">员关于退休或者工作的讨论。此时，提出的问</tspan><tspan x="227" dy="16.5">题并不重要，重要的是拉近了销售员和客户的</tspan><tspan x="227" dy="16.5">距离。通过交谈，降低客户的戒心，之后再去</tspan><tspan x="227" dy="16.5">推销产品时，就不会有那么大的排斥心理。说</tspan><tspan x="227" dy="16.5">白了，这是一个人情做透的阶段。人在消费时</tspan><tspan x="227" dy="16.5">普遍会寻求一种安全感，这也是为什么很多人</tspan><tspan x="227" dy="16.5">购物会找熟人带着的原因。而销售人员本身和</tspan><tspan x="227" dy="16.5">客户是不认识的，要想打破这种僵局，只能通</tspan><tspan x="227" dy="16.5">过一些别的方式去做到。交流，就是一种简单</tspan></text></g>

<!-- branch 3 -->
<g id="n3-1"><path class="v" d="M656,1706H904L913,1753.25L904,1800.5H656L647,1753.25Z"/><text class="t" x="655" y="1725.1"><tspan x="655" dy="0">"诚信待客须用心，终端竞争靠服务"，多年</tspan><tspan x="655" dy="16.5">的销售经历让我对"用心服务"真正内涵的重要</tspan><tspan x="655" dy="16.5">性及必要性，深有体会、感悟颇深。实践</tspan><tspan x="655" dy="16.5">中的历炼，让我得到了一个至胜真理，那就是</tspan><tspan x="655" dy="16.5">"只有用心服务、才能赢在终端"。</tspan></text></g>
<g id="n3-2"><path class="v" d="M656,1829H904L913,1958.75L904,2088.5H656L647,1958.75Z"/><text class="t" x="655" y="1848.1"><tspan x="655" dy="0">那为什么要用心服务？其实我们天天在做销售</tspan><tspan x="655" dy="16.5">、在做服务，而因为太平常、太普通，让我</tspan><tspan x="655" dy="16.5">们思想上产生了麻痹，而忽视了服务中用心</tspan><tspan x="655" dy="16.5">的重要性。在实际销售中促销是一个智商与情</tspan><tspan x="655" dy="16.5">商聪慧并具的职业。只顾着重发挥自己的智商</tspan><tspan x="655" dy="16.5">，即使产品的功能卖点讲解的再好，再懂</tspan><tspan x="655" dy="16.5">得归避顾客提出的一切不利于销售的问题，但</tspan><tspan x="655" dy="16.5">忽视了以人为本的重要性，未能用心服务顾</tspan><tspan x="655" dy="16.5">客，让顾客感到你是在图利推销产品给他，</tspan><tspan x="655" dy="16.5">导致顾客的不信任，让每一次的顾客流失习</tspan><tspan x="655" dy="16.5">以为常，从而根本不可能形成有效销售，把</tspan><tspan x="655" dy="16.5">自己充其量算作一名产品讲解员。而只有以人</tspan><tspan x="655" dy="16.5">为本，情商并重，将用心服务落实到实处，</tspan><tspan x="655" dy="16.5">真诚感动顾客，让顾客放心在轻松愉快的氛围</tspan><tspan x="655" dy="16.5">中完成销售。</tspan></text></g>
<g id="n3-3"><path class="v" d="M656,2117H904L913,2139.5L904,2162H656L647,2139.5Z"/><text class="t" x="655" y="2136.1"><tspan x="655" dy="0">在日常终端销售中，究竟应该怎样去把用心服</tspan><tspan x="655" dy="16.5">务落到实处？</tspan></text></g>
<g id="n3-4"><path class="v" d="M656,2192H904L913,2239.25L904,2286.5H656L647,2239.25Z"/><text class="t" x="655" y="2211.1"><tspan x="655" dy="0">第一，在商品出样陈列方面做到用心服务。用</tspan><tspan x="655" dy="16.5">心维护保养好每一件出样商品，将其最美好的</tspan><tspan x="655" dy="16.5">一面展示给顾客，将商品最佳的性能演示出来</tspan><tspan x="655" dy="16.5">，在第一时间吸引顾客眼球，让顾客较快找到</tspan><tspan x="655" dy="16.5">所需产品的特点，勾起购买欲望。</tspan></text></g>
<g id="n3-5"><path class="v" d="M656,2315H904L913,2354L904,2393H656L647,2354Z"/><text class="t" x="655" y="2334.1"><tspan x="655" dy="0">第二，在商场形象方面做到用心服务，注重自</tspan><tspan x="655" dy="16.5">己的言行举止，礼貌卫生，将干净整洁，高品</tspan><tspan x="655" dy="16.5">质，高品味的商场形象及人性化用心服务的理念</tspan><tspan x="655" dy="16.5">永远在顾客心中世代承传。</tspan></text></g>
<g id="n3-6"><path class="v" d="M656,2471H904L913,2518.25L904,2565.5H656L647,2518.25Z"/><text class="t" x="655" y="2490.1"><tspan x="655" dy="0">第三，在礼貌待客方面做到用心服务，倾听顾</tspan><tspan x="655" dy="16.5">客的心声，了解顾客的需求，精心为顾客挑选</tspan><tspan x="655" dy="16.5">所喜所需商品，杜绝盲目推销，让我们的每一位</tspan><tspan x="655" dy="16.5">xx的上帝在自己的购物天堂里享受轻松愉快</tspan><tspan x="655" dy="16.5">的购物快乐。</tspan></text></g>
<g id="n3-6a"><path class="v" d="M360,2471H609L618,2518.25L609,2565.5H360L351,2518.25Z"/></g>

</g>
<g id="watermarks">
<text class="wm" x="490" y="480" transform="rotate(-32 490 480)">树图 shutu.cn</text>
<text class="wm" x="1600" y="400" transform="rotate(-32 1600 400)">树图 shutu.cn</text>
<text class="wm" x="520" y="1240" transform="rotate(-32 520 1240)">树图 shutu.cn</text>
<text class="wm" x="1640" y="1270" transform="rotate(-32 1640 1270)">树图 shutu.cn</text>
<text class="wm" x="520" y="2100" transform="rotate(-32 520 2100)">树图 shutu.cn</text>
<text class="wm" x="1640" y="2150" transform="rotate(-32 1640 2150)">树图 shutu.cn</text>
<text class="wm" x="520" y="2980" transform="rotate(-32 520 2980)">树图 shutu.cn</text>
<text class="wm" x="1640" y="3020" transform="rotate(-32 1640 3020)">树图 shutu.cn</text>
<text class="wm" x="520" y="3800" transform="rotate(-32 520 3800)">树图 shutu.cn</text>
<text class="wm" x="1640" y="3850" transform="rotate(-32 1640 3850)">树图 shutu.cn</text>
</g>
</svg>
